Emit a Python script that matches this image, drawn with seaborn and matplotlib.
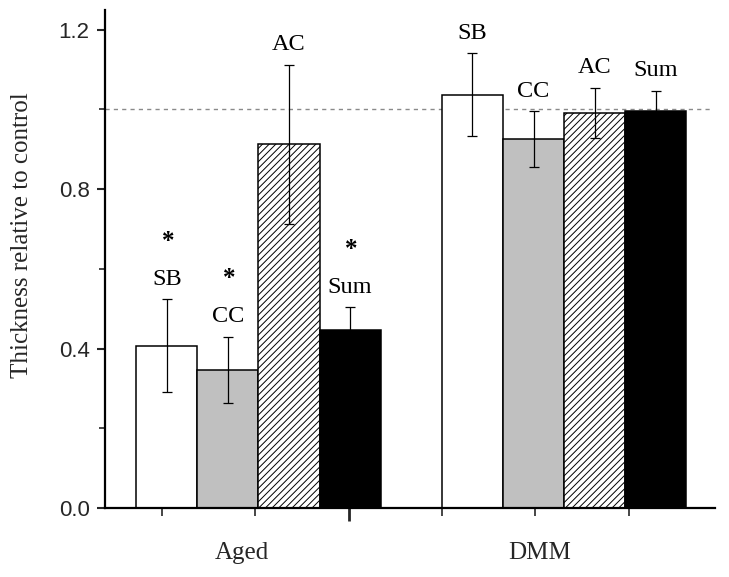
import numpy as np
import pandas as pd
import matplotlib
matplotlib.use("Agg")
import matplotlib.pyplot as plt
import matplotlib.transforms as mtransforms
import seaborn as sns

# ---- data ----
groups = ["Aged", "DMM"]
components = ["SB", "CC", "AC", "Sum"]
aged_values = [0.407, 0.346, 0.912, 0.446]
aged_errors = [0.116, 0.083, 0.200, 0.057]
aged_sig = [True, True, False, True]
dmm_values = [1.037, 0.925, 0.990, 0.996]
dmm_errors = [0.103, 0.070, 0.063, 0.050]
dmm_sig = [False, False, False, False]
yticks = [0.0, 0.4, 0.8, 1.2]
yminor = [0.2, 0.6, 1.0]
control_level = 1.0

values = {"Aged": aged_values, "DMM": dmm_values}
errors = {"Aged": aged_errors, "DMM": dmm_errors}
sigs = {"Aged": aged_sig, "DMM": dmm_sig}

rows = []
for g in groups:
    for c, v, e, s in zip(components, values[g], errors[g], sigs[g]):
        rows.append(dict(group=g, component=c, value=v, err=e, sig=s))
df = pd.DataFrame(rows)

sns.set_theme(style="ticks")
plt.rcParams["font.family"] = ["Liberation Serif", "DejaVu Serif"]
plt.rcParams["hatch.linewidth"] = 0.7
plt.rcParams["hatch.color"] = "black"

fig = plt.figure(figsize=(7.29, 5.77), dpi=100)
ax = fig.add_axes([0.144, 0.1196, 0.837, 0.8631])

palette = {"SB": "white", "CC": "#c0c0c0", "AC": "white", "Sum": "black"}
sns.barplot(data=df, x="group", y="value", hue="component", order=groups,
            hue_order=components, palette=palette, edgecolor="black",
            linewidth=1.1, width=0.8, gap=0, errorbar=None, legend=False,
            saturation=1, ax=ax)

bar_containers = list(ax.containers)

for ci, cont in enumerate(bar_containers):
    comp = components[ci]
    for bar in cont:
        if comp == "AC":
            bar.set_hatch("/////")
        bar.set_zorder(2)

ax.axhline(control_level, xmin=0, xmax=0.993, color="#8a8a8a", lw=1.0,
           dashes=(3, 3), zorder=1)

for ci, cont in enumerate(bar_containers):
    comp = components[ci]
    sub = df[df.component == comp].set_index("group").loc[groups]
    xs = [b.get_x() + b.get_width() / 2 for b in cont]
    ax.errorbar(xs, sub["value"], yerr=sub["err"], fmt="none",
                ecolor="black", elinewidth=0.9, capsize=3.5,
                capthick=0.9, zorder=3)
    for x, v, e, s in zip(xs, sub["value"], sub["err"], sub["sig"]):
        top = v + e
        ax.annotate(comp, (x, top), xytext=(0, 14.5), textcoords="offset points",
                    ha="center", va="center", fontsize=17.5, color="black")
        if s:
            ax.annotate("*", (x, top), xytext=(1, 42), textcoords="offset points",
                        ha="center", va="center", fontsize=18, fontweight="bold",
                        color="black")

ax.set_ylim(0, 1.249)
ax.set_xlim(-0.502, 1.494)
ax.set_yticks(yticks)
ax.set_yticks(yminor, minor=True)
ax.set_yticklabels([f"{t:.1f}" for t in yticks], family="Liberation Sans",
                   fontsize=16)

xt = -0.316 + np.arange(6) * 0.3055
ax.set_xticks([xt[2]])
ax.set_xticklabels([""])
ax.set_xticks(list(xt[[0, 1, 3, 4, 5]]), minor=True)
ax.tick_params(axis="x", which="major", length=9, width=2, direction="out")
ax.tick_params(axis="x", which="minor", length=6, width=1.2, direction="out")
ax.tick_params(axis="y", which="major", length=6, width=1.5, direction="out", pad=5)
ax.tick_params(axis="y", which="minor", length=4, width=1.2, direction="out")

trans = mtransforms.blended_transform_factory(ax.transData, ax.transAxes)
for g, xpos in zip(groups, [-0.054, 0.921]):
    ax.text(xpos, -0.09, g, transform=trans, ha="center", va="center",
            fontsize=18)

ax.set_xlabel("")
ax.set_ylabel("Thickness relative to control", fontsize=18)
ax.yaxis.set_label_coords(-0.118, 0.548)

for side in ["top", "right"]:
    ax.spines[side].set_visible(False)
for side in ["left", "bottom"]:
    ax.spines[side].set_linewidth(1.6)
    ax.spines[side].set_color("black")

fig.savefig("out.png", dpi=100)
